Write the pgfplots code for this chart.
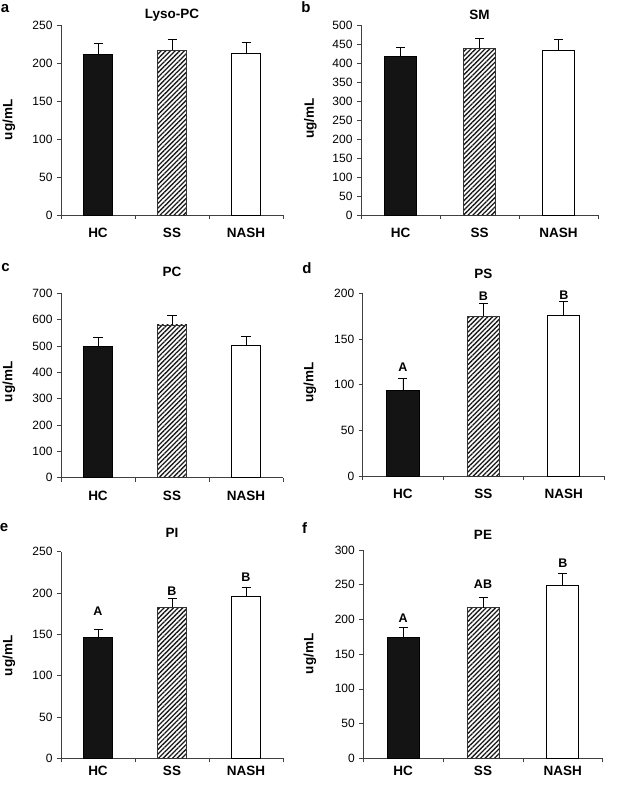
\documentclass[border=0pt]{standalone}
\usepackage{pgfplots}
\pgfplotsset{compat=1.18}
\usepackage{fontspec}
\setmainfont{Liberation Sans}
\usetikzlibrary{patterns.meta}
\pgfplotsset{
  panel/.style={
    scale only axis,
    axis x line*=bottom, axis y line*=left,
    xmin=-0.5, xmax=2.5, ymin=0,
    xtick={0,1,2}, xticklabels={HC,SS,NASH},
    minor xtick={-0.5,0.5,1.5,2.5},
    major x tick style={draw=none},
    tick align=outside,
    major tick length=4bp, minor tick length=4bp,
    every tick/.style={black!75, line width=0.7bp},
    axis line style={black!75, line width=0.8bp},
    /pgf/number format/assume math mode=true,
    yticklabel style={font=\fontsize{12bp}{12bp}\selectfont, xshift=-1bp},
    xticklabel style={font=\bfseries\fontsize{13.5bp}{13.5bp}\selectfont, anchor=center},
    title style={font=\bfseries\fontsize{13.5bp}{13.5bp}\selectfont, at={(0.5,1)}, anchor=center},
    clip=false,
  },
  hcbar/.style={ybar, bar width=0.4, bar shift=0pt, fill=black!92, draw=black, line width=0.8bp,
    error bars/.cd, y dir=plus, y explicit,
    error bar style={line width=0.8bp, black},
    error mark options={rotate=90, mark size=4.5bp, line width=0.8bp, black}},
  ssbar/.style={ybar, bar width=0.4, bar shift=0pt, fill=white, draw=black!80, line width=0.8bp,
    postaction={pattern={Lines[angle=45,distance=3.3bp,line width=1.3bp]}, pattern color=black!90},
    error bars/.cd, y dir=plus, y explicit,
    error bar style={line width=0.8bp, black},
    error mark options={rotate=90, mark size=4.5bp, line width=0.8bp, black}},
  nashbar/.style={ybar, bar width=0.4, bar shift=0pt, fill=white, draw=black, line width=0.8bp,
    error bars/.cd, y dir=plus, y explicit,
    error bar style={line width=0.8bp, black},
    error mark options={rotate=90, mark size=4.5bp, line width=0.8bp, black}},
  letters/.style={draw=none, mark=none, point meta=explicit symbolic, nodes near coords,
    nodes near coords style={anchor=center, inner sep=0pt, font=\bfseries\fontsize{12.5bp}{12.5bp}\selectfont}},
}
\begin{document}
\begin{tikzpicture}
\path[use as bounding box] (0,0) rectangle (618bp,786bp);
% ---------- a ----------
\begin{axis}[panel, at={(61bp,571bp)}, anchor=south west, width=222bp, height=190bp,
  ymax=250, ytick={0,50,...,250}, title={Lyso-PC}, title style={yshift=4bp},
  xticklabel style={yshift=-14bp}]
\addplot[hcbar] coordinates {(0,211.8) +- (0,13.6)};
\addplot[ssbar] coordinates {(1,217.0) +- (0,14.0)};
\addplot[nashbar] coordinates {(2,212.0) +- (0,15.6)};
\end{axis}
% ---------- b ----------
\begin{axis}[panel, at={(361bp,571bp)}, anchor=south west, width=237bp, height=190bp,
  ymax=500, ytick={0,50,...,500}, title={SM}, title style={yshift=4bp},
  xticklabel style={yshift=-14bp}]
\addplot[hcbar] coordinates {(0,416.6) +- (0,23.4)};
\addplot[ssbar] coordinates {(1,438.6) +- (0,27.2)};
\addplot[nashbar] coordinates {(2,433.0) +- (0,29.0)};
\end{axis}
% ---------- c ----------
\begin{axis}[panel, at={(61bp,308.3bp)}, anchor=south west, width=222bp, height=184.4bp,
  ymax=700, ytick={0,100,...,700}, title={PC}, title style={yshift=15bp},
  xticklabel style={yshift=-14bp}]
\addplot[hcbar] coordinates {(0,499.0) +- (0,32.6)};
\addplot[ssbar] coordinates {(1,579.7) +- (0,35.3)};
\addplot[nashbar] coordinates {(2,502.5) +- (0,35.5)};
\end{axis}
% ---------- d ----------
\begin{axis}[panel, at={(362.7bp,310bp)}, anchor=south west, width=241.3bp, height=182.7bp,
  ymax=200, ytick={0,50,...,200}, title={PS}, title style={yshift=13bp},
  xticklabel style={yshift=-14bp}]
\addplot[hcbar] coordinates {(0,94.2) +- (0,13.1)};
\addplot[ssbar] coordinates {(1,174.8) +- (0,13.9)};
\addplot[nashbar] coordinates {(2,175.5) +- (0,15.4)};
\addplot[letters] coordinates {(0,119.3) [A] (1,196.5) [B] (2,197.4) [B]};
\end{axis}
% ---------- e ----------
\begin{axis}[panel, at={(61bp,27.7bp)}, anchor=south west, width=222bp, height=206.6bp,
  ymax=250, ytick={0,50,...,250}, title={PI}, title style={yshift=12.7bp},
  xticklabel style={yshift=-9bp}]
\addplot[hcbar] coordinates {(0,146.4) +- (0,9.6)};
\addplot[ssbar] coordinates {(1,183.0) +- (0,10.5)};
\addplot[nashbar] coordinates {(2,196.0) +- (0,11.3)};
\addplot[letters] coordinates {(0,177.5) [A] (1,202.5) [B] (2,219.7) [B]};
\end{axis}
% ---------- f ----------
\begin{axis}[panel, at={(363.3bp,27.7bp)}, anchor=south west, width=239.4bp, height=208.3bp,
  ymax=300, ytick={0,50,...,300}, title={PE}, title style={yshift=9bp},
  xticklabel style={yshift=-9bp}]
\addplot[hcbar] coordinates {(0,174.2) +- (0,14.4)};
\addplot[ssbar] coordinates {(1,217.0) +- (0,15.3)};
\addplot[nashbar] coordinates {(2,248.6) +- (0,18.3)};
\addplot[letters] coordinates {(0,201.6) [A] (1,251.0) [AB] (2,280.8) [B]};
\end{axis}
% ---------- panel letters and y labels ----------
\begin{scope}[every node/.style={font=\bfseries\fontsize{15bp}{15bp}\selectfont, inner sep=0pt}]
\node at (5bp,777.5bp) {a};
\node at (306bp,779bp) {b};
\node at (5.5bp,518bp) {c};
\node at (307bp,517.5bp) {d};
\node at (4bp,258bp) {e};
\node at (304.5bp,257.5bp) {f};
\end{scope}
\begin{scope}[every node/.style={font=\bfseries\fontsize{13.5bp}{13.5bp}\selectfont, inner sep=0pt, rotate=90}]
\node at (9bp,666bp) {ug/mL};
\node at (310.5bp,667.5bp) {ug/mL};
\node at (9bp,404bp) {ug/mL};
\node at (310bp,403.5bp) {ug/mL};
\node at (9bp,130bp) {ug/mL};
\node at (310bp,132bp) {ug/mL};
\end{scope}
\end{tikzpicture}
\end{document}
